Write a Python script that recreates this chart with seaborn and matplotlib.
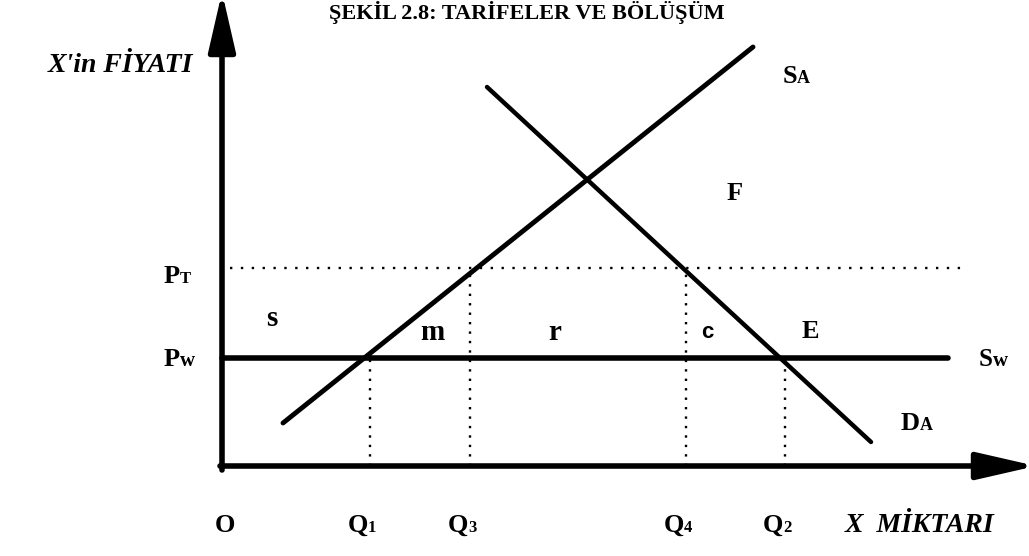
import matplotlib
matplotlib.use("Agg")
import matplotlib.pyplot as plt
import seaborn as sns
import pandas as pd

# ---- data (diagram units: quantity on x, price on y) ----
title_text = "ŞEKİL 2.8: TARİFELER VE BÖLÜŞÜM"
y_axis_label = "X'in FİYATI"
x_axis_label = "X  MİKTARI"

p_world = 10.8      # Pw
p_tariff = 19.8     # PT
q_names = ["1", "3", "4", "2"]
q_values = [14.8, 24.8, 46.4, 56.3]   # Q1, Q3, Q4, Q2
q_heights = [p_world, p_tariff, p_tariff, p_world]

supply_q = [6.1, 53.1]
supply_p = [4.3, 41.9]
demand_q = [26.5, 64.9]
demand_p = [37.9, 2.4]

sw_end = 72.6
pt_start, pt_end = 0.8, 74.3
x_axis_end = 81.4
y_axis_end = 47.4

area_labels = ["s", "m", "r", "c", "E", "F"]
area_x = [5.0, 21.0, 33.3, 48.5, 58.8, 51.3]
area_y = [14.8, 13.3, 13.3, 13.3, 13.4, 27.3]

sns.set_theme(style="white")
plt.rcParams['font.family'] = ['Liberation Serif', 'DejaVu Serif']
plt.rcParams['text.color'] = 'black'

fig = plt.figure(figsize=(10.29, 5.56), dpi=100)
ax = fig.add_axes([0, 0, 1, 1])
ax.set_xlim(-22.2, 80.7)
ax.set_ylim(-9.0, 46.6)
ax.axis('off')

# supply & demand
sup = pd.DataFrame({"q": supply_q, "p": supply_p})
dem = pd.DataFrame({"q": demand_q, "p": demand_p})
sns.lineplot(data=sup, x="q", y="p", ax=ax, color="black", lw=3.5,
             sort=False, estimator=None, solid_capstyle="round")
sns.lineplot(data=dem, x="q", y="p", ax=ax, color="black", lw=3.2,
             sort=False, estimator=None, solid_capstyle="round")

# world supply line
ax.plot([0, sw_end], [p_world, p_world], color="black", lw=4.0, solid_capstyle="round")
# tariff price dotted line
ax.plot([pt_start, pt_end], [p_tariff, p_tariff], color="black", lw=1.7,
        linestyle=(0, (1, 3.6)))
# vertical dotted lines
for qv, h in zip(q_values, q_heights):
    ax.plot([qv, qv], [0, h], color="black", lw=1.7, linestyle=(0, (1, 3.0)))

# axes with arrows
ax.annotate("", xy=(0, y_axis_end), xytext=(0, -0.4), annotation_clip=False,
            arrowprops=dict(arrowstyle="-|>,head_length=2.4,head_width=0.55",
                            lw=4.0, color="black", mutation_scale=15,
                            shrinkA=0, shrinkB=0))
ax.annotate("", xy=(x_axis_end, 0), xytext=(-0.2, 0), annotation_clip=False,
            arrowprops=dict(arrowstyle="-|>,head_length=2.4,head_width=0.55",
                            lw=4.0, color="black", mutation_scale=15,
                            shrinkA=0, shrinkB=0))

def two_part(x, y, main, sub, size=18, subsize=12):
    ax.text(x, y, main, ha="right", va="baseline", fontsize=size,
            fontweight="bold", color="black")
    ax.text(x, y, sub, ha="left", va="baseline", fontsize=subsize,
            fontweight="bold", color="black")

# price labels
two_part(-4.2, 18.3, "P", "T", size=19, subsize=12)
two_part(-4.2, 10.0, "P", "w", size=19, subsize=15)
# curve labels
two_part(77.1, 10.0, "S", "w", size=18, subsize=15)
two_part(69.8, 3.6, "D", "A", size=19, subsize=13)
two_part(57.5, 38.3, "S", "A", size=19, subsize=13)

# quantity labels
ax.text(0.3, -5.9, "O", ha="center", va="center", fontsize=19, fontweight="bold",
        color="black")
for name, qv in zip(q_names, q_values):
    ax.text(qv - 0.2, -6.6, "Q", ha="right", va="baseline", fontsize=19,
            fontweight="bold", color="black")
    ax.text(qv - 0.2, -6.6, name, ha="left", va="baseline", fontsize=12,
            fontweight="bold", color="black")

# area labels
for lab, x, y in zip(area_labels, area_x, area_y):
    fam = ['Liberation Sans'] if lab == "c" else ['Liberation Serif']
    size = 16 if lab == "c" else (21 if lab in ("s", "m", "r") else 19)
    ax.text(x, y, lab, ha="center", va="center", fontsize=size,
            fontweight="bold", family=fam, color="black")

# axis titles
ax.text(-10.2, 40.1, y_axis_label, ha="center", va="center", fontsize=20,
        fontstyle="italic", fontweight="bold", color="black")
ax.text(69.8, -5.9, x_axis_label, ha="center", va="center", fontsize=20,
        fontstyle="italic", fontweight="bold", color="black")

fig.text(0.512, 0.999, title_text, ha="center", va="top", fontsize=16,
         fontweight="bold", family=['Liberation Serif'], color="black")

fig.savefig("out.png", dpi=100)
